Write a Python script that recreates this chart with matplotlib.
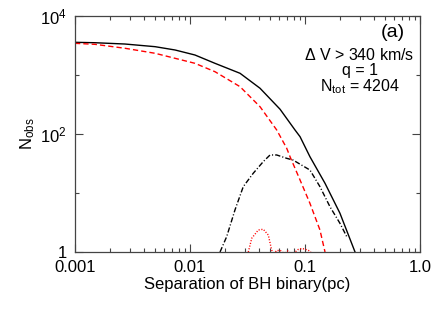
import numpy as np
import matplotlib
matplotlib.use("Agg")
import matplotlib.pyplot as plt
from matplotlib.ticker import FixedLocator, FixedFormatter, NullFormatter

plt.rcParams['font.family'] = ['Liberation Sans', 'DejaVu Sans']
plt.rcParams['mathtext.fontset'] = 'custom'
plt.rcParams['mathtext.rm'] = 'Liberation Sans'
plt.rcParams['mathtext.it'] = 'Liberation Sans'

# Solid black: total
sep_total = [0.001, 0.00149, 0.00272, 0.00497, 0.00741, 0.01104, 0.01648,
             0.02723, 0.04064, 0.06067, 0.08185, 0.09057, 0.1104, 0.1493, 0.2014, 0.2723]
n_total = [3581, 3524, 3350, 3020, 2655, 2183, 1578,
           1069, 596, 263, 117, 90, 41.2, 14.6, 4.53, 1.0]

# Red dashed
sep_red = [0.001, 0.00149, 0.00272, 0.00497, 0.00741, 0.01104, 0.01648,
           0.02723, 0.04064, 0.05675, 0.06934, 0.07413, 0.09057, 0.1104, 0.1349, 0.1493]
n_red = [3443, 3311, 2838, 2333, 1919, 1578, 1138,
         634, 290, 117, 57.3, 41.2, 16.6, 6.68, 2.36, 1.0]

# Black dash-dot
sep_dd = [0.01824, 0.02084, 0.02460, 0.02904, 0.03548, 0.04335, 0.04966, 0.05675,
          0.06934, 0.07870, 0.1104, 0.1349, 0.1648, 0.2014, 0.2307]
n_dd = [1.0, 1.82, 5.15, 12.8, 21.6, 34.0, 44.1, 44.1,
        38.7, 36.2, 24.5, 12.8, 5.86, 3.06, 1.82]

# Red dotted
sep_dot = [0.03214, 0.03443, 0.03926, 0.04335, 0.04797, 0.05129, 0.0540, 0.0560, 0.0607,
           0.0657, 0.0711, 0.0771, 0.0869, 0.0942, 0.1021, 0.1104, 0.1174]
n_dot = [1.0, 1.71, 2.36, 2.43, 1.94, 1.08, 0.85, 1.05, 1.07,
         0.95, 1.04, 0.9, 1.1, 1.15, 1.1, 1.04, 0.85]

fig = plt.figure(figsize=(4.42, 3.16), dpi=100)
ax = fig.add_axes([75/442, 1-252/316, 345/442, 236/316])

ax.plot(sep_total, n_total, color='black', lw=1.0)
ax.plot(sep_red, n_red, color='red', lw=1.0, dashes=(3.8, 2.2))
ax.plot(sep_dd, n_dd, color='black', lw=1.0, dashes=(3.8, 1.5, 0.8, 1.5))
ax.plot(sep_dot, n_dot, color='red', lw=1.0, dashes=(0.8, 1.2))

ax.set_xscale('log')
ax.set_yscale('log')
ax.set_xlim(0.001, 1.0)
ax.set_ylim(1, 1e4)

ax.xaxis.set_major_locator(FixedLocator([0.001, 0.01, 0.1, 1.0]))
ax.xaxis.set_major_formatter(FixedFormatter(['0.001', '0.01', '0.1', '1.0']))
ax.xaxis.set_minor_locator(FixedLocator([m * 10.0**e for e in range(-3, 0) for m in range(2, 10)]))
ax.xaxis.set_minor_formatter(NullFormatter())
ax.yaxis.set_major_locator(FixedLocator([1, 100, 1e4]))
ax.yaxis.set_major_formatter(FixedFormatter(['1', '10$^2$', '10$^4$']))
ax.yaxis.set_minor_locator(FixedLocator([10, 1000]))
ax.yaxis.set_minor_formatter(NullFormatter())

ax.tick_params(which='both', direction='in', top=True, right=True, labelsize=12, color='#444444', width=0.8)
ax.tick_params(which='major', length=6, pad=6)
ax.tick_params(which='minor', length=3)
for s in ax.spines.values():
    s.set_color('#444444')
    s.set_linewidth(0.9)

ax.set_xlabel('Separation of BH binary(pc)', fontsize=12, labelpad=1)
ax.set_ylabel('N$_{\\rm obs}$', fontsize=12, labelpad=2)

ax.text(0.955, 0.93, '(a)', transform=ax.transAxes, fontsize=14, ha='right', va='center')
ax.text(0.825, 0.835, '$\\Delta$ V > 340 km/s', transform=ax.transAxes, fontsize=11.5, ha='center', va='center')
ax.text(0.825, 0.77, 'q = 1', transform=ax.transAxes, fontsize=11.5, ha='center', va='center')
ax.text(0.825, 0.70, 'N$_{\\rm tot}$ = 4204', transform=ax.transAxes, fontsize=11.5, ha='center', va='center')

fig.savefig('out.png', dpi=100)
